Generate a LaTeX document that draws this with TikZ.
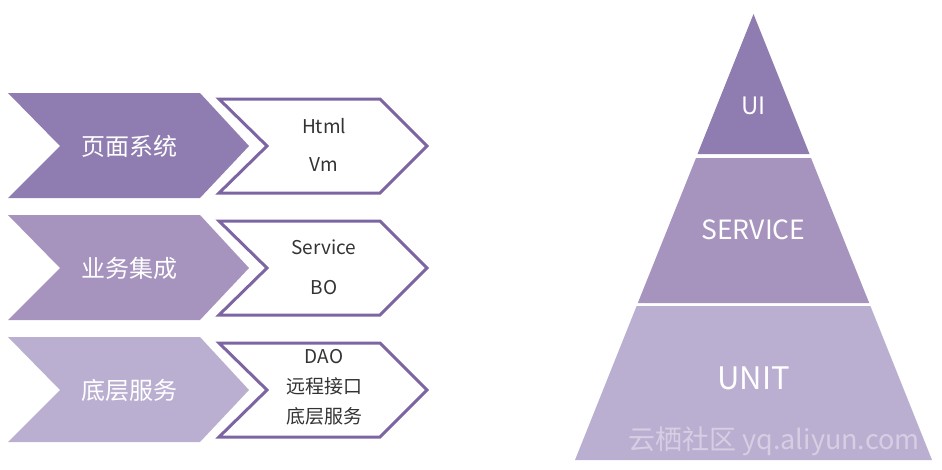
\documentclass[tikz,border=0pt]{standalone}
\usepackage{fontspec}
\setmainfont{Noto Sans CJK SC}
\definecolor{layA}{HTML}{8F7CB0}
\definecolor{layB}{HTML}{A694BF}
\definecolor{layC}{HTML}{BBAFD1}
\definecolor{layline}{HTML}{7D65A3}
\definecolor{laytext}{HTML}{333333}
\tikzset{
  chevlabel/.style={text=white,font=\fontsize{24}{26}\selectfont},
  itemlabel/.style={text=laytext,font=\fontsize{19}{21}\selectfont},
}

\begin{document}
\begin{tikzpicture}[x=1pt,y=-1pt]
    \useasboundingbox (0,0) rectangle (942,469);
    % left: three layers
    \foreach \i/\c/\t in {0/layA/页面系统,1/layB/业务集成,2/layC/底层服务}{
      \fill[\c] (8,93+122*\i)--(200,93+122*\i)--(249,146+122*\i)--(200,198+122*\i)--(8,198+122*\i)--(60,146+122*\i)--cycle;
      \draw[layline,line width=3pt,line join=miter] (219,99+122*\i)--(380,99+122*\i)--(427,146+122*\i)--(380,193+122*\i)--(219,193+122*\i)--(267,146+122*\i)--cycle;
      \node[chevlabel] (lay\i) at (129,146+122*\i) {\t};
    }
    \node[itemlabel] (html) at (324,126) {Html};
    \node[itemlabel] (vm) at (324,165) {Vm};
    \node[itemlabel] (svc) at (324,247) {Service};
    \node[itemlabel] (bo) at (324,288) {BO};
    \node[itemlabel] (dao) at (324,357) {DAO};
    \node[itemlabel] (rpc) at (324,386) {远程接口};
    \node[itemlabel] (base) at (324,416) {底层服务};
    % right: pyramid
    \fill[layA] (753.5,14)--(809.5,154)--(697.5,154)--cycle;
    \fill[layB] (696,158)--(811,158)--(869.2,303)--(637.8,303)--cycle;
    \fill[layC] (636.6,306)--(870.4,306)--(932,460)--(575,460)--cycle;
    \node[text=white,font=\fontsize{24}{26}\selectfont] (ui) at (753.5,106) {UI};
    \node[text=white,font=\fontsize{26.5}{28}\selectfont] (service) at (753.5,230) {SERVICE};
    \node[text=white,font=\fontsize{31}{33}\selectfont] (unit) at (753.5,378) {UNIT};
    \node[text=white,opacity=0.4,font=\fontsize{27}{29}\selectfont] (mark) at (774,441) {云栖社区 yq.aliyun.com};
\end{tikzpicture}
\end{document}
